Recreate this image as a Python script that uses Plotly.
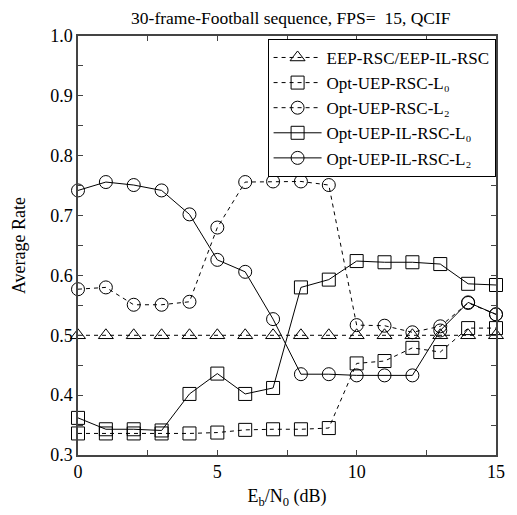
import plotly.graph_objects as go

x_vals = [0, 1, 2, 3, 4, 5, 6, 7, 8, 9, 10, 11, 12, 13, 14, 15]
eep = [0.5, 0.5, 0.5, 0.5, 0.5, 0.5, 0.5, 0.5, 0.5, 0.5, 0.5, 0.5, 0.5, 0.5, 0.5, 0.5]
rsc_l0 = [0.336, 0.336, 0.336, 0.336, 0.336, 0.3375, 0.342, 0.343, 0.343, 0.345,
          0.453, 0.457, 0.479, 0.472, 0.512, 0.512]
rsc_l2 = [0.577, 0.580, 0.551, 0.551, 0.556, 0.680, 0.756, 0.757, 0.757, 0.751,
          0.517, 0.516, 0.505, 0.515, 0.554, 0.535]
il_l0 = [0.362, 0.343, 0.343, 0.341, 0.402, 0.436, 0.402, 0.412, 0.580, 0.593,
         0.624, 0.622, 0.622, 0.619, 0.586, 0.584]
il_l2 = [0.742, 0.756, 0.751, 0.742, 0.702, 0.626, 0.606, 0.527, 0.435, 0.435,
         0.433, 0.433, 0.433, 0.508, 0.555, 0.535]

names = ["EEP-RSC/EEP-IL-RSC", "Opt-UEP-RSC-L\u2080", "Opt-UEP-RSC-L\u2082",
         "Opt-UEP-IL-RSC-L\u2080", "Opt-UEP-IL-RSC-L\u2082"]
series = [eep, rsc_l0, rsc_l2, il_l0, il_l2]
symbols = ["triangle-up-open", "square-open", "circle-open", "square-open", "circle-open"]
dashes = ["4px,4px", "4px,4px", "4px,4px", "solid", "solid"]

FONT = "Liberation Serif, Times New Roman, serif"

fig = go.Figure()
for name, ys, sym, dash in zip(names, series, symbols, dashes):
    fig.add_trace(go.Scatter(
        x=x_vals, y=ys, name=name, mode="lines+markers",
        line=dict(color="black", width=1, dash=dash),
        marker=dict(symbol=sym, size=13, color="black", line=dict(width=1, color="black")),
        cliponaxis=False,
    ))

axis_common = dict(
    showline=True, linecolor="#444", linewidth=1.5, mirror="ticks",
    ticks="inside", ticklen=5, tickcolor="#444", tickwidth=1,
    showgrid=False, zeroline=False,
    tickfont=dict(family=FONT, size=18, color="black"),
)

fig.update_xaxes(range=[0, 15], tickmode="linear", tick0=0, dtick=5,
                 minor=dict(ticks="inside", dtick=2.5, ticklen=5, tickcolor="#444"),
                 title=dict(text="E<sub>b</sub>/N<sub>0</sub> (dB)",
                            font=dict(family=FONT, size=18, color="black"), standoff=8),
                 **axis_common)
fig.update_yaxes(range=[0.3, 1.0], tickmode="linear", tick0=0.3, dtick=0.1, tickformat=".1f",
                 minor=dict(ticks="inside", dtick=0.05, ticklen=5, tickcolor="#444"),
                 title=dict(text="Average Rate",
                            font=dict(family=FONT, size=18, color="black"), standoff=20),
                 **axis_common)

fig.update_layout(
    width=517, height=515,
    margin=dict(l=78, r=14, t=36, b=55),
    paper_bgcolor="white", plot_bgcolor="white",
    title=dict(text="30-frame-Football sequence, FPS=  15, QCIF",
               font=dict(family=FONT, size=17.5, color="black"),
               x=0.5625, xanchor="center", y=0.965, yanchor="middle"),
    legend=dict(x=0.999, y=0.993, xanchor="right", yanchor="top",
                bgcolor="white", bordercolor="black", borderwidth=1,
                font=dict(family=FONT, size=17, color="black"),
                tracegroupgap=0, itemwidth=48),
    showlegend=True,
)

fig.write_html("out.html")
